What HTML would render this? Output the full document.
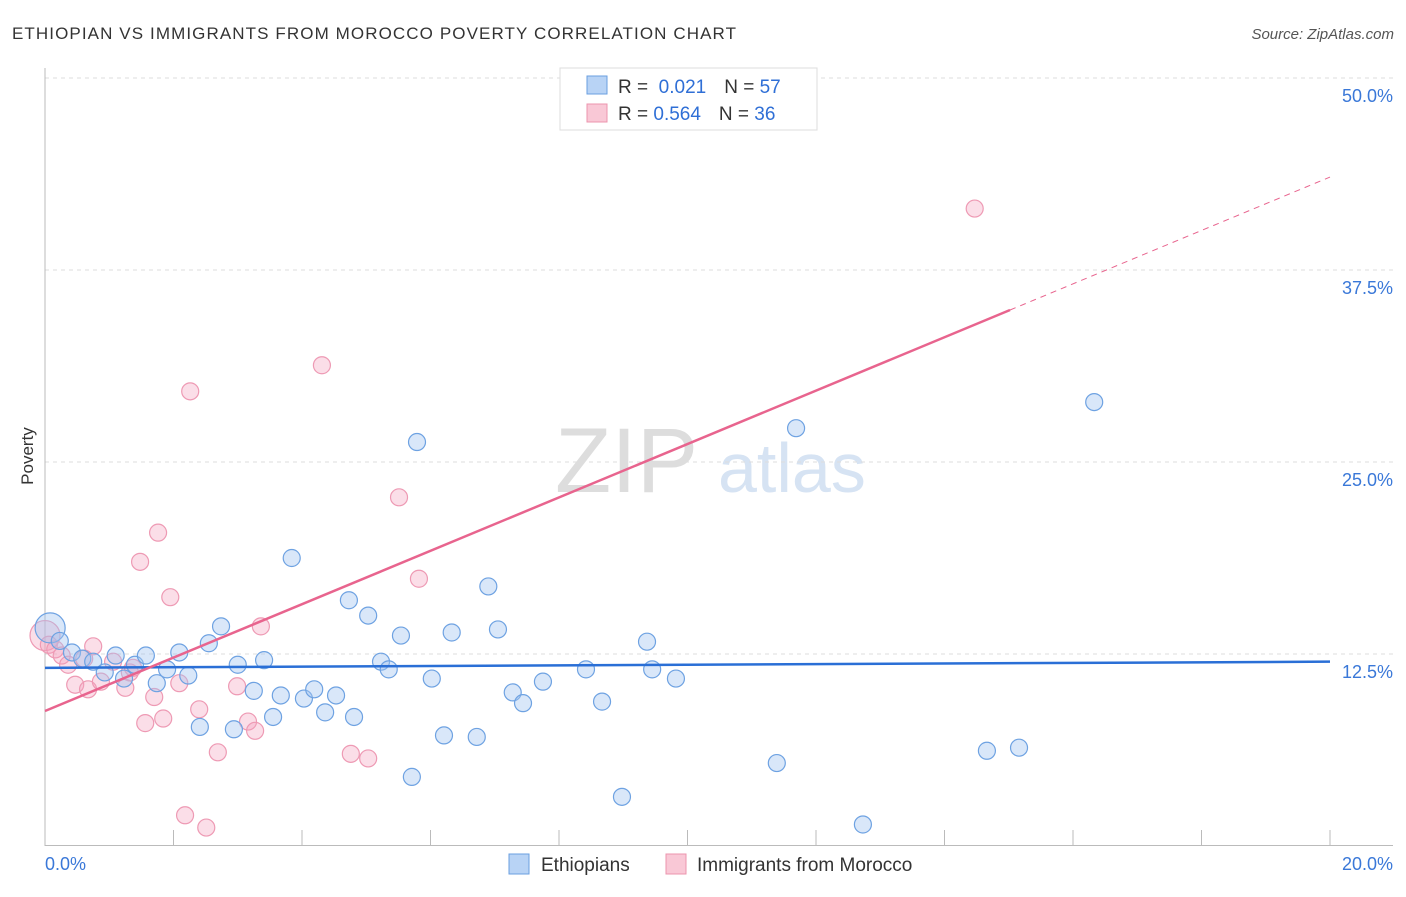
<!DOCTYPE html>
<html><head><meta charset="utf-8"><style>
body{margin:0;background:#fff;font-family:"Liberation Sans",sans-serif}
svg text{font-family:"Liberation Sans",sans-serif}
</style></head><body>
<svg id="c" width="1406" height="892">
<text x="12" y="39" font-size="17" fill="#333" textLength="724" lengthAdjust="spacing">ETHIOPIAN VS IMMIGRANTS FROM MOROCCO POVERTY CORRELATION CHART</text>
<text x="1394" y="39" font-size="15" fill="#555" font-style="italic" text-anchor="end">Source: ZipAtlas.com</text>
<text x="33" y="456" font-size="17" fill="#333" transform="rotate(-90 33 456)" text-anchor="middle">Poverty</text>
<text x="555" y="492" font-size="92" fill="#ddd" font-family="Liberation Serif">ZIP</text>
<text x="718" y="492" font-size="70" fill="#d6e3f3">atlas</text>
<g id="grid"></g><g id="axes"></g><g id="pts"></g><g id="trend"></g>
<g>
<rect x="560" y="68" width="257" height="62" fill="#fff" stroke="#ddd"/>
<rect x="587" y="76" width="20" height="18" fill="#b8d3f5" stroke="#6a9fe0"/>
<rect x="587" y="104" width="20" height="18" fill="#f9c8d6" stroke="#ec94ae"/>
<text x="618" y="93" font-size="19" fill="#333">R = <tspan fill="#2f6fd6">&#160;0.021</tspan><tspan dx="18">N = </tspan><tspan fill="#2f6fd6">57</tspan></text>
<text x="618" y="120" font-size="19" fill="#333">R = <tspan fill="#2f6fd6">0.564</tspan><tspan dx="18">N = </tspan><tspan fill="#2f6fd6">36</tspan></text>
</g>
<g>
<rect x="509" y="854" width="20" height="20" fill="#b8d3f5" stroke="#6a9fe0"/>
<text x="541" y="871" font-size="19" fill="#333">Ethiopians</text>
<rect x="666" y="854" width="20" height="20" fill="#f9c8d6" stroke="#ec94ae"/>
<text x="697" y="871" font-size="19" fill="#333">Immigrants from Morocco</text>
</g>
</svg>
<script>
const xTicks=[0,2,4,6,8,10,12,14,16,18,20];
const yTicks=[12.5,25,37.5,50];
const yTickLabels=["12.5%","25.0%","37.5%","50.0%"];
const ethX=[0.08,0.23,0.42,0.58,0.75,0.93,1.1,1.23,1.4,1.57,1.74,1.9,2.09,2.23,2.41,2.55,2.74,2.94,3.0,3.25,3.41,3.55,3.67,3.84,4.03,4.19,4.36,4.53,4.73,4.81,5.03,5.23,5.35,5.54,5.71,5.79,6.02,6.21,6.33,6.72,6.9,7.05,7.28,7.44,7.75,8.42,8.67,8.98,9.37,9.45,9.82,11.39,11.69,12.73,14.66,15.16,16.33];
const ethY=[14.2,13.35,12.6,12.2,12.0,11.3,12.4,10.9,11.8,12.4,10.6,11.5,12.6,11.1,7.75,13.2,14.3,7.6,11.8,10.1,12.1,8.4,9.8,18.75,9.6,10.2,8.7,9.8,16.0,8.4,15.0,12.0,11.5,13.7,4.5,26.3,10.9,7.2,13.9,7.1,16.9,14.1,10.0,9.3,10.7,11.5,9.4,3.2,13.3,11.5,10.9,5.4,27.2,1.4,6.2,6.4,28.9];
const morX=[0.0,0.06,0.16,0.26,0.36,0.47,0.61,0.67,0.75,0.87,1.06,1.25,1.32,1.37,1.48,1.56,1.7,1.76,1.84,1.95,2.09,2.18,2.26,2.4,2.51,2.69,2.99,3.16,3.27,3.36,4.31,4.76,5.03,5.51,5.82,14.47];
const morY=[13.7,13.1,12.8,12.4,11.8,10.5,12.2,10.2,13.0,10.7,12.0,10.3,11.3,11.6,18.5,8.0,9.7,20.4,8.3,16.2,10.6,2.0,29.6,8.9,1.2,6.1,10.4,8.1,7.5,14.3,31.3,6.0,5.7,22.7,17.4,41.5];
const ethTrend=[11.6,12.0];
const morTrend=[8.79,43.55];
const morSolidEnd=15.02;
const NS="http://www.w3.org/2000/svg";
const X=v=>45+v/20*1285, Y=v=>846-v/12.5*192;
function mk(t,a,p){const e=document.createElementNS(NS,t);for(const k in a)e.setAttribute(k,a[k]);p.appendChild(e);return e;}
const grid=document.getElementById('grid'),axes=document.getElementById('axes'),pts=document.getElementById('pts'),tr=document.getElementById('trend');
yTicks.forEach((t,i)=>{
 const l=mk('line',{x1:45,x2:1393,y1:Y(t),y2:Y(t),stroke:'#ddd','stroke-dasharray':'4 4'},grid);
 
 
 const tx=mk('text',{x:1393,y:Y(t)+24,'font-size':18,fill:'#3a78d8','text-anchor':'end'},grid);
 tx.textContent=yTickLabels[i];
 
 
});
mk('line',{x1:45,x2:45,y1:68,y2:846,stroke:'#bbb'},axes);
mk('line',{x1:45,x2:1393,y1:845.5,y2:845.5,stroke:'#bbb'},axes);
xTicks.forEach(t=>{
 const l=mk('line',{x1:X(t),x2:X(t),y1:830,y2:846,stroke:'#bbb'},axes);
 
 
});
const xl0=mk('text',{x:45,y:870,'font-size':18,fill:'#3a78d8'},axes);xl0.textContent='0.0%';


const xl1=mk('text',{x:1393,y:870,'font-size':18,fill:'#3a78d8','text-anchor':'end'},axes);xl1.textContent='20.0%';


morX.forEach((x,i)=>{
 const c=mk('circle',{cx:X(x),cy:Y(morY[i]),r:i==0?15:8.5,fill:'rgba(244,160,188,0.35)',stroke:'#ee9ab4','stroke-width':1.2},pts);
 
 
});
ethX.forEach((x,i)=>{
 const c=mk('circle',{cx:X(x),cy:Y(ethY[i]),r:i==0?15:8.5,fill:'rgba(160,196,240,0.4)',stroke:'#6ea2e2','stroke-width':1.2},pts);
 
 
});
const bl=mk('line',{x1:X(0),y1:Y(ethTrend[0]),x2:X(20),y2:Y(ethTrend[1]),stroke:'#2a6fd6','stroke-width':2.5},tr);


const mAt=x=>morTrend[0]+(morTrend[1]-morTrend[0])*x/20;
const pl=mk('line',{x1:X(0),y1:Y(mAt(0)),x2:X(morSolidEnd),y2:Y(mAt(morSolidEnd)),stroke:'#e8648e','stroke-width':2.5},tr);


const pd=mk('line',{x1:X(morSolidEnd),y1:Y(mAt(morSolidEnd)),x2:X(20),y2:Y(mAt(20)),stroke:'#e8648e','stroke-width':1,'stroke-dasharray':'6 5'},tr);


</script>
</body></html>
